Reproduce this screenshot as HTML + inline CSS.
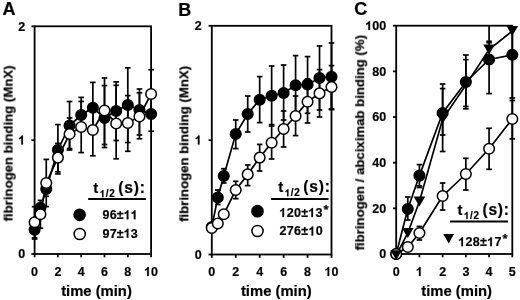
<!DOCTYPE html><html><head><meta charset="utf-8"><style>html,body{margin:0;padding:0;background:#fff;width:520px;height:300px;overflow:hidden}svg{display:block}text{will-change:transform}</style></head><body><svg width="520" height="300" viewBox="0 0 520 300">
<style>text{font-family:"Liberation Sans",sans-serif;font-weight:bold;fill:#000;stroke:#000;stroke-width:0.2px}.h{fill:none;stroke:none}.t{fill:#000;stroke:#000;stroke-width:0.2px}</style>
<rect width="520" height="300" fill="#fff"/>
<text x="2.6" y="15.3" font-size="18">A</text>
<text x="178.2" y="16" font-size="18">B</text>
<text x="354.2" y="15.4" font-size="18">C</text>
<rect x="34.6" y="26.3" width="116.5" height="227.7" fill="none" stroke="#000" stroke-width="1.8"/>
<line x1="34.6" y1="206.7" x2="34.6" y2="237.9" stroke="#000" stroke-width="1.7"/>
<line x1="31.8" y1="206.7" x2="37.4" y2="206.7" stroke="#000" stroke-width="1.7"/>
<line x1="31.8" y1="237.9" x2="37.4" y2="237.9" stroke="#000" stroke-width="1.7"/>
<line x1="34.6" y1="220.4" x2="34.6" y2="239" stroke="#000" stroke-width="1.7"/>
<line x1="31.8" y1="220.4" x2="37.4" y2="220.4" stroke="#000" stroke-width="1.7"/>
<line x1="31.8" y1="239" x2="37.4" y2="239" stroke="#000" stroke-width="1.7"/>
<line x1="40.43" y1="200.4" x2="40.43" y2="228.2" stroke="#000" stroke-width="1.7"/>
<line x1="37.63" y1="200.4" x2="43.23" y2="200.4" stroke="#000" stroke-width="1.7"/>
<line x1="37.63" y1="228.2" x2="43.23" y2="228.2" stroke="#000" stroke-width="1.7"/>
<line x1="46.25" y1="159.4" x2="46.25" y2="206.6" stroke="#000" stroke-width="1.7"/>
<line x1="43.45" y1="159.4" x2="49.05" y2="159.4" stroke="#000" stroke-width="1.7"/>
<line x1="43.45" y1="206.6" x2="49.05" y2="206.6" stroke="#000" stroke-width="1.7"/>
<line x1="46.25" y1="181.7" x2="46.25" y2="196.3" stroke="#000" stroke-width="1.7"/>
<line x1="43.45" y1="181.7" x2="49.05" y2="181.7" stroke="#000" stroke-width="1.7"/>
<line x1="43.45" y1="196.3" x2="49.05" y2="196.3" stroke="#000" stroke-width="1.7"/>
<line x1="57.9" y1="124.6" x2="57.9" y2="173.9" stroke="#000" stroke-width="1.7"/>
<line x1="55.1" y1="124.6" x2="60.7" y2="124.6" stroke="#000" stroke-width="1.7"/>
<line x1="55.1" y1="173.9" x2="60.7" y2="173.9" stroke="#000" stroke-width="1.7"/>
<line x1="57.9" y1="143.4" x2="57.9" y2="171.8" stroke="#000" stroke-width="1.7"/>
<line x1="55.1" y1="143.4" x2="60.7" y2="143.4" stroke="#000" stroke-width="1.7"/>
<line x1="55.1" y1="171.8" x2="60.7" y2="171.8" stroke="#000" stroke-width="1.7"/>
<line x1="69.55" y1="101.5" x2="69.55" y2="148.5" stroke="#000" stroke-width="1.7"/>
<line x1="66.75" y1="101.5" x2="72.35" y2="101.5" stroke="#000" stroke-width="1.7"/>
<line x1="66.75" y1="148.5" x2="72.35" y2="148.5" stroke="#000" stroke-width="1.7"/>
<line x1="69.55" y1="118" x2="69.55" y2="150" stroke="#000" stroke-width="1.7"/>
<line x1="66.75" y1="118" x2="72.35" y2="118" stroke="#000" stroke-width="1.7"/>
<line x1="66.75" y1="150" x2="72.35" y2="150" stroke="#000" stroke-width="1.7"/>
<line x1="81.2" y1="97.4" x2="81.2" y2="130.6" stroke="#000" stroke-width="1.7"/>
<line x1="78.4" y1="97.4" x2="84" y2="97.4" stroke="#000" stroke-width="1.7"/>
<line x1="78.4" y1="130.6" x2="84" y2="130.6" stroke="#000" stroke-width="1.7"/>
<line x1="81.2" y1="101.4" x2="81.2" y2="152.6" stroke="#000" stroke-width="1.7"/>
<line x1="78.4" y1="101.4" x2="84" y2="101.4" stroke="#000" stroke-width="1.7"/>
<line x1="78.4" y1="152.6" x2="84" y2="152.6" stroke="#000" stroke-width="1.7"/>
<line x1="92.85" y1="82.4" x2="92.85" y2="131.6" stroke="#000" stroke-width="1.7"/>
<line x1="90.05" y1="82.4" x2="95.65" y2="82.4" stroke="#000" stroke-width="1.7"/>
<line x1="90.05" y1="131.6" x2="95.65" y2="131.6" stroke="#000" stroke-width="1.7"/>
<line x1="92.85" y1="104.2" x2="92.85" y2="155.8" stroke="#000" stroke-width="1.7"/>
<line x1="90.05" y1="104.2" x2="95.65" y2="104.2" stroke="#000" stroke-width="1.7"/>
<line x1="90.05" y1="155.8" x2="95.65" y2="155.8" stroke="#000" stroke-width="1.7"/>
<line x1="104.5" y1="78" x2="104.5" y2="144.5" stroke="#000" stroke-width="1.7"/>
<line x1="101.7" y1="78" x2="107.3" y2="78" stroke="#000" stroke-width="1.7"/>
<line x1="101.7" y1="144.5" x2="107.3" y2="144.5" stroke="#000" stroke-width="1.7"/>
<line x1="104.5" y1="85.6" x2="104.5" y2="147.5" stroke="#000" stroke-width="1.7"/>
<line x1="101.7" y1="85.6" x2="107.3" y2="85.6" stroke="#000" stroke-width="1.7"/>
<line x1="101.7" y1="147.5" x2="107.3" y2="147.5" stroke="#000" stroke-width="1.7"/>
<line x1="116.15" y1="81.9" x2="116.15" y2="140.5" stroke="#000" stroke-width="1.7"/>
<line x1="113.35" y1="81.9" x2="118.95" y2="81.9" stroke="#000" stroke-width="1.7"/>
<line x1="113.35" y1="140.5" x2="118.95" y2="140.5" stroke="#000" stroke-width="1.7"/>
<line x1="116.15" y1="85.3" x2="116.15" y2="158.8" stroke="#000" stroke-width="1.7"/>
<line x1="113.35" y1="85.3" x2="118.95" y2="85.3" stroke="#000" stroke-width="1.7"/>
<line x1="113.35" y1="158.8" x2="118.95" y2="158.8" stroke="#000" stroke-width="1.7"/>
<line x1="127.8" y1="67.8" x2="127.8" y2="142.5" stroke="#000" stroke-width="1.7"/>
<line x1="125" y1="67.8" x2="130.6" y2="67.8" stroke="#000" stroke-width="1.7"/>
<line x1="125" y1="142.5" x2="130.6" y2="142.5" stroke="#000" stroke-width="1.7"/>
<line x1="127.8" y1="95.6" x2="127.8" y2="151.3" stroke="#000" stroke-width="1.7"/>
<line x1="125" y1="95.6" x2="130.6" y2="95.6" stroke="#000" stroke-width="1.7"/>
<line x1="125" y1="151.3" x2="130.6" y2="151.3" stroke="#000" stroke-width="1.7"/>
<line x1="139.45" y1="89" x2="139.45" y2="135" stroke="#000" stroke-width="1.7"/>
<line x1="136.65" y1="89" x2="142.25" y2="89" stroke="#000" stroke-width="1.7"/>
<line x1="136.65" y1="135" x2="142.25" y2="135" stroke="#000" stroke-width="1.7"/>
<line x1="139.45" y1="92.8" x2="139.45" y2="138.75" stroke="#000" stroke-width="1.7"/>
<line x1="136.65" y1="92.8" x2="142.25" y2="92.8" stroke="#000" stroke-width="1.7"/>
<line x1="136.65" y1="138.75" x2="142.25" y2="138.75" stroke="#000" stroke-width="1.7"/>
<line x1="151.1" y1="69.7" x2="151.1" y2="118.3" stroke="#000" stroke-width="1.7"/>
<line x1="148.3" y1="69.7" x2="153.9" y2="69.7" stroke="#000" stroke-width="1.7"/>
<line x1="148.3" y1="118.3" x2="153.9" y2="118.3" stroke="#000" stroke-width="1.7"/>
<line x1="151.1" y1="96.75" x2="151.1" y2="131.25" stroke="#000" stroke-width="1.7"/>
<line x1="148.3" y1="96.75" x2="153.9" y2="96.75" stroke="#000" stroke-width="1.7"/>
<line x1="148.3" y1="131.25" x2="153.9" y2="131.25" stroke="#000" stroke-width="1.7"/>
<polyline points="34.6,229.7 40.43,207.7 46.25,189 57.9,150 69.55,125.5 81.2,115 92.85,107.7 104.5,118 116.15,111 127.8,105 139.45,110 151.1,114" fill="none" stroke="#000" stroke-width="1.7"/>
<polyline points="34.6,222.3 40.43,214.3 46.25,183 57.9,157.6 69.55,134 81.2,127 92.85,130 104.5,110.5 116.15,123.5 127.8,123 139.45,116.5 151.1,94" fill="none" stroke="#000" stroke-width="1.7"/>
<circle cx="34.6" cy="229.7" r="5.3" fill="#000" stroke="#000" stroke-width="1.5"/>
<circle cx="40.43" cy="207.7" r="5.3" fill="#000" stroke="#000" stroke-width="1.5"/>
<circle cx="46.25" cy="189" r="5.3" fill="#000" stroke="#000" stroke-width="1.5"/>
<circle cx="57.9" cy="150" r="5.3" fill="#000" stroke="#000" stroke-width="1.5"/>
<circle cx="69.55" cy="125.5" r="5.3" fill="#000" stroke="#000" stroke-width="1.5"/>
<circle cx="81.2" cy="115" r="5.3" fill="#000" stroke="#000" stroke-width="1.5"/>
<circle cx="92.85" cy="107.7" r="5.3" fill="#000" stroke="#000" stroke-width="1.5"/>
<circle cx="104.5" cy="118" r="5.3" fill="#000" stroke="#000" stroke-width="1.5"/>
<circle cx="116.15" cy="111" r="5.3" fill="#000" stroke="#000" stroke-width="1.5"/>
<circle cx="127.8" cy="105" r="5.3" fill="#000" stroke="#000" stroke-width="1.5"/>
<circle cx="139.45" cy="110" r="5.3" fill="#000" stroke="#000" stroke-width="1.5"/>
<circle cx="151.1" cy="114" r="5.3" fill="#000" stroke="#000" stroke-width="1.5"/>
<circle cx="34.6" cy="222.3" r="5.3" fill="#fff" stroke="#000" stroke-width="1.5"/>
<circle cx="40.43" cy="214.3" r="5.3" fill="#fff" stroke="#000" stroke-width="1.5"/>
<circle cx="46.25" cy="183" r="5.3" fill="#fff" stroke="#000" stroke-width="1.5"/>
<circle cx="57.9" cy="157.6" r="5.3" fill="#fff" stroke="#000" stroke-width="1.5"/>
<circle cx="69.55" cy="134" r="5.3" fill="#fff" stroke="#000" stroke-width="1.5"/>
<circle cx="81.2" cy="127" r="5.3" fill="#fff" stroke="#000" stroke-width="1.5"/>
<circle cx="92.85" cy="130" r="5.3" fill="#fff" stroke="#000" stroke-width="1.5"/>
<circle cx="104.5" cy="110.5" r="5.3" fill="#fff" stroke="#000" stroke-width="1.5"/>
<circle cx="116.15" cy="123.5" r="5.3" fill="#fff" stroke="#000" stroke-width="1.5"/>
<circle cx="127.8" cy="123" r="5.3" fill="#fff" stroke="#000" stroke-width="1.5"/>
<circle cx="139.45" cy="116.5" r="5.3" fill="#fff" stroke="#000" stroke-width="1.5"/>
<circle cx="151.1" cy="94" r="5.3" fill="#fff" stroke="#000" stroke-width="1.5"/>
<line x1="31.4" y1="254" x2="34.6" y2="254" stroke="#000" stroke-width="1.8"/>
<text x="18.25" y="258.4" font-size="12.5">0</text>
<line x1="31.4" y1="140.15" x2="34.6" y2="140.15" stroke="#000" stroke-width="1.8"/>
<text x="18.25" y="144.55" font-size="12.5"><tspan class="h">1</tspan></text>
<path class="t" d="M22.94 144.55H21.26V138.15C20.7 138.68 19.98 139.07 19.1 139.33V137.84C19.56 137.68 20.06 137.41 20.6 137C21.14 136.58 21.5 136.12 21.7 135.6H22.94Z"/>
<line x1="31.4" y1="26.3" x2="34.6" y2="26.3" stroke="#000" stroke-width="1.8"/>
<text x="18.25" y="30.7" font-size="12.5">2</text>
<line x1="34.6" y1="254" x2="34.6" y2="257.3" stroke="#000" stroke-width="1.8"/>
<text x="31.12" y="276" font-size="12.5">0</text>
<line x1="57.9" y1="254" x2="57.9" y2="257.3" stroke="#000" stroke-width="1.8"/>
<text x="54.42" y="276" font-size="12.5">2</text>
<line x1="81.2" y1="254" x2="81.2" y2="257.3" stroke="#000" stroke-width="1.8"/>
<text x="77.72" y="276" font-size="12.5">4</text>
<line x1="104.5" y1="254" x2="104.5" y2="257.3" stroke="#000" stroke-width="1.8"/>
<text x="101.02" y="276" font-size="12.5">6</text>
<line x1="127.8" y1="254" x2="127.8" y2="257.3" stroke="#000" stroke-width="1.8"/>
<text x="124.32" y="276" font-size="12.5">8</text>
<line x1="151.1" y1="254" x2="151.1" y2="257.3" stroke="#000" stroke-width="1.8"/>
<text x="144.15" y="276" font-size="12.5"><tspan class="h">1</tspan>0</text>
<path class="t" d="M148.84 276H147.16V269.6C146.6 270.13 145.88 270.52 145 270.78V269.29C145.46 269.13 145.96 268.86 146.5 268.45C147.04 268.03 147.4 267.57 147.6 267.05H148.84Z"/>
<text x="61.14" y="296.2" font-size="14.8">time (min)</text>
<text transform="translate(12.6,143.4) rotate(-90)" x="-78.08" y="0" font-size="13.2">fibrinogen binding (MnX)</text>
<rect x="211.8" y="25.8" width="119.7" height="228.7" fill="none" stroke="#000" stroke-width="1.8"/>
<line x1="217.79" y1="190" x2="217.79" y2="204.5" stroke="#000" stroke-width="1.7"/>
<line x1="214.99" y1="190" x2="220.59" y2="190" stroke="#000" stroke-width="1.7"/>
<line x1="214.99" y1="204.5" x2="220.59" y2="204.5" stroke="#000" stroke-width="1.7"/>
<line x1="223.77" y1="168.7" x2="223.77" y2="183" stroke="#000" stroke-width="1.7"/>
<line x1="220.97" y1="168.7" x2="226.57" y2="168.7" stroke="#000" stroke-width="1.7"/>
<line x1="220.97" y1="183" x2="226.57" y2="183" stroke="#000" stroke-width="1.7"/>
<line x1="235.74" y1="120" x2="235.74" y2="148.6" stroke="#000" stroke-width="1.7"/>
<line x1="232.94" y1="120" x2="238.54" y2="120" stroke="#000" stroke-width="1.7"/>
<line x1="232.94" y1="148.6" x2="238.54" y2="148.6" stroke="#000" stroke-width="1.7"/>
<line x1="235.74" y1="181.3" x2="235.74" y2="198.7" stroke="#000" stroke-width="1.7"/>
<line x1="232.94" y1="181.3" x2="238.54" y2="181.3" stroke="#000" stroke-width="1.7"/>
<line x1="232.94" y1="198.7" x2="238.54" y2="198.7" stroke="#000" stroke-width="1.7"/>
<line x1="247.71" y1="96" x2="247.71" y2="132" stroke="#000" stroke-width="1.7"/>
<line x1="244.91" y1="96" x2="250.51" y2="96" stroke="#000" stroke-width="1.7"/>
<line x1="244.91" y1="132" x2="250.51" y2="132" stroke="#000" stroke-width="1.7"/>
<line x1="247.71" y1="165" x2="247.71" y2="185.6" stroke="#000" stroke-width="1.7"/>
<line x1="244.91" y1="165" x2="250.51" y2="165" stroke="#000" stroke-width="1.7"/>
<line x1="244.91" y1="185.6" x2="250.51" y2="185.6" stroke="#000" stroke-width="1.7"/>
<line x1="259.68" y1="76.6" x2="259.68" y2="122.6" stroke="#000" stroke-width="1.7"/>
<line x1="256.88" y1="76.6" x2="262.48" y2="76.6" stroke="#000" stroke-width="1.7"/>
<line x1="256.88" y1="122.6" x2="262.48" y2="122.6" stroke="#000" stroke-width="1.7"/>
<line x1="259.68" y1="144.4" x2="259.68" y2="171" stroke="#000" stroke-width="1.7"/>
<line x1="256.88" y1="144.4" x2="262.48" y2="144.4" stroke="#000" stroke-width="1.7"/>
<line x1="256.88" y1="171" x2="262.48" y2="171" stroke="#000" stroke-width="1.7"/>
<line x1="271.65" y1="66" x2="271.65" y2="124.6" stroke="#000" stroke-width="1.7"/>
<line x1="268.85" y1="66" x2="274.45" y2="66" stroke="#000" stroke-width="1.7"/>
<line x1="268.85" y1="124.6" x2="274.45" y2="124.6" stroke="#000" stroke-width="1.7"/>
<line x1="271.65" y1="126" x2="271.65" y2="159" stroke="#000" stroke-width="1.7"/>
<line x1="268.85" y1="126" x2="274.45" y2="126" stroke="#000" stroke-width="1.7"/>
<line x1="268.85" y1="159" x2="274.45" y2="159" stroke="#000" stroke-width="1.7"/>
<line x1="283.62" y1="65" x2="283.62" y2="120" stroke="#000" stroke-width="1.7"/>
<line x1="280.82" y1="65" x2="286.42" y2="65" stroke="#000" stroke-width="1.7"/>
<line x1="280.82" y1="120" x2="286.42" y2="120" stroke="#000" stroke-width="1.7"/>
<line x1="283.62" y1="111" x2="283.62" y2="147" stroke="#000" stroke-width="1.7"/>
<line x1="280.82" y1="111" x2="286.42" y2="111" stroke="#000" stroke-width="1.7"/>
<line x1="280.82" y1="147" x2="286.42" y2="147" stroke="#000" stroke-width="1.7"/>
<line x1="295.59" y1="55.6" x2="295.59" y2="113" stroke="#000" stroke-width="1.7"/>
<line x1="292.79" y1="55.6" x2="298.39" y2="55.6" stroke="#000" stroke-width="1.7"/>
<line x1="292.79" y1="113" x2="298.39" y2="113" stroke="#000" stroke-width="1.7"/>
<line x1="295.59" y1="96" x2="295.59" y2="135.6" stroke="#000" stroke-width="1.7"/>
<line x1="292.79" y1="96" x2="298.39" y2="96" stroke="#000" stroke-width="1.7"/>
<line x1="292.79" y1="135.6" x2="298.39" y2="135.6" stroke="#000" stroke-width="1.7"/>
<line x1="307.56" y1="56.6" x2="307.56" y2="113.3" stroke="#000" stroke-width="1.7"/>
<line x1="304.76" y1="56.6" x2="310.36" y2="56.6" stroke="#000" stroke-width="1.7"/>
<line x1="304.76" y1="113.3" x2="310.36" y2="113.3" stroke="#000" stroke-width="1.7"/>
<line x1="307.56" y1="79" x2="307.56" y2="123" stroke="#000" stroke-width="1.7"/>
<line x1="304.76" y1="79" x2="310.36" y2="79" stroke="#000" stroke-width="1.7"/>
<line x1="304.76" y1="123" x2="310.36" y2="123" stroke="#000" stroke-width="1.7"/>
<line x1="319.53" y1="46" x2="319.53" y2="110" stroke="#000" stroke-width="1.7"/>
<line x1="316.73" y1="46" x2="322.33" y2="46" stroke="#000" stroke-width="1.7"/>
<line x1="316.73" y1="110" x2="322.33" y2="110" stroke="#000" stroke-width="1.7"/>
<line x1="319.53" y1="69.6" x2="319.53" y2="117" stroke="#000" stroke-width="1.7"/>
<line x1="316.73" y1="69.6" x2="322.33" y2="69.6" stroke="#000" stroke-width="1.7"/>
<line x1="316.73" y1="117" x2="322.33" y2="117" stroke="#000" stroke-width="1.7"/>
<line x1="331.5" y1="43" x2="331.5" y2="109.6" stroke="#000" stroke-width="1.7"/>
<line x1="328.7" y1="43" x2="334.3" y2="43" stroke="#000" stroke-width="1.7"/>
<line x1="328.7" y1="109.6" x2="334.3" y2="109.6" stroke="#000" stroke-width="1.7"/>
<line x1="331.5" y1="65.6" x2="331.5" y2="108.8" stroke="#000" stroke-width="1.7"/>
<line x1="328.7" y1="65.6" x2="334.3" y2="65.6" stroke="#000" stroke-width="1.7"/>
<line x1="328.7" y1="108.8" x2="334.3" y2="108.8" stroke="#000" stroke-width="1.7"/>
<polyline points="211.8,227 217.79,197.5 223.77,176 235.74,134 247.71,114 259.68,99.7 271.65,95.7 283.62,93 295.59,85.3 307.56,84.4 319.53,78 331.5,76.7" fill="none" stroke="#000" stroke-width="1.7"/>
<polyline points="211.8,228 217.79,223.5 223.77,214.3 235.74,190 247.71,174.4 259.68,157.6 271.65,142.7 283.62,129 295.59,116 307.56,101.7 319.53,93.4 331.5,87" fill="none" stroke="#000" stroke-width="1.7"/>
<circle cx="211.8" cy="227" r="5.3" fill="#000" stroke="#000" stroke-width="1.5"/>
<circle cx="217.79" cy="197.5" r="5.3" fill="#000" stroke="#000" stroke-width="1.5"/>
<circle cx="223.77" cy="176" r="5.3" fill="#000" stroke="#000" stroke-width="1.5"/>
<circle cx="235.74" cy="134" r="5.3" fill="#000" stroke="#000" stroke-width="1.5"/>
<circle cx="247.71" cy="114" r="5.3" fill="#000" stroke="#000" stroke-width="1.5"/>
<circle cx="259.68" cy="99.7" r="5.3" fill="#000" stroke="#000" stroke-width="1.5"/>
<circle cx="271.65" cy="95.7" r="5.3" fill="#000" stroke="#000" stroke-width="1.5"/>
<circle cx="283.62" cy="93" r="5.3" fill="#000" stroke="#000" stroke-width="1.5"/>
<circle cx="295.59" cy="85.3" r="5.3" fill="#000" stroke="#000" stroke-width="1.5"/>
<circle cx="307.56" cy="84.4" r="5.3" fill="#000" stroke="#000" stroke-width="1.5"/>
<circle cx="319.53" cy="78" r="5.3" fill="#000" stroke="#000" stroke-width="1.5"/>
<circle cx="331.5" cy="76.7" r="5.3" fill="#000" stroke="#000" stroke-width="1.5"/>
<circle cx="211.8" cy="228" r="5.3" fill="#fff" stroke="#000" stroke-width="1.5"/>
<circle cx="217.79" cy="223.5" r="5.3" fill="#fff" stroke="#000" stroke-width="1.5"/>
<circle cx="223.77" cy="214.3" r="5.3" fill="#fff" stroke="#000" stroke-width="1.5"/>
<circle cx="235.74" cy="190" r="5.3" fill="#fff" stroke="#000" stroke-width="1.5"/>
<circle cx="247.71" cy="174.4" r="5.3" fill="#fff" stroke="#000" stroke-width="1.5"/>
<circle cx="259.68" cy="157.6" r="5.3" fill="#fff" stroke="#000" stroke-width="1.5"/>
<circle cx="271.65" cy="142.7" r="5.3" fill="#fff" stroke="#000" stroke-width="1.5"/>
<circle cx="283.62" cy="129" r="5.3" fill="#fff" stroke="#000" stroke-width="1.5"/>
<circle cx="295.59" cy="116" r="5.3" fill="#fff" stroke="#000" stroke-width="1.5"/>
<circle cx="307.56" cy="101.7" r="5.3" fill="#fff" stroke="#000" stroke-width="1.5"/>
<circle cx="319.53" cy="93.4" r="5.3" fill="#fff" stroke="#000" stroke-width="1.5"/>
<circle cx="331.5" cy="87" r="5.3" fill="#fff" stroke="#000" stroke-width="1.5"/>
<line x1="208.6" y1="254.5" x2="211.8" y2="254.5" stroke="#000" stroke-width="1.8"/>
<text x="194.85" y="258.9" font-size="12.5">0</text>
<line x1="208.6" y1="140.15" x2="211.8" y2="140.15" stroke="#000" stroke-width="1.8"/>
<text x="194.85" y="144.55" font-size="12.5"><tspan class="h">1</tspan></text>
<path class="t" d="M199.54 144.55H197.86V138.15C197.3 138.68 196.58 139.07 195.7 139.33V137.84C196.16 137.68 196.66 137.41 197.2 137C197.74 136.58 198.1 136.12 198.3 135.6H199.54Z"/>
<line x1="208.6" y1="25.8" x2="211.8" y2="25.8" stroke="#000" stroke-width="1.8"/>
<text x="194.85" y="30.2" font-size="12.5">2</text>
<line x1="211.8" y1="254.5" x2="211.8" y2="257.8" stroke="#000" stroke-width="1.8"/>
<text x="208.32" y="276" font-size="12.5">0</text>
<line x1="235.74" y1="254.5" x2="235.74" y2="257.8" stroke="#000" stroke-width="1.8"/>
<text x="232.26" y="276" font-size="12.5">2</text>
<line x1="259.68" y1="254.5" x2="259.68" y2="257.8" stroke="#000" stroke-width="1.8"/>
<text x="256.2" y="276" font-size="12.5">4</text>
<line x1="283.62" y1="254.5" x2="283.62" y2="257.8" stroke="#000" stroke-width="1.8"/>
<text x="280.14" y="276" font-size="12.5">6</text>
<line x1="307.56" y1="254.5" x2="307.56" y2="257.8" stroke="#000" stroke-width="1.8"/>
<text x="304.08" y="276" font-size="12.5">8</text>
<line x1="331.5" y1="254.5" x2="331.5" y2="257.8" stroke="#000" stroke-width="1.8"/>
<text x="324.55" y="276" font-size="12.5"><tspan class="h">1</tspan>0</text>
<path class="t" d="M329.24 276H327.56V269.6C327 270.13 326.28 270.52 325.4 270.78V269.29C325.86 269.13 326.36 268.86 326.9 268.45C327.44 268.03 327.8 267.57 328 267.05H329.24Z"/>
<text x="240.94" y="296.2" font-size="14.8">time (min)</text>
<text transform="translate(188.4,143.8) rotate(-90)" x="-78.08" y="0" font-size="13.2">fibrinogen binding (MnX)</text>
<rect x="396.2" y="25.7" width="116.1" height="228.3" fill="none" stroke="#000" stroke-width="1.8"/>
<line x1="407.81" y1="197" x2="407.81" y2="220" stroke="#000" stroke-width="1.7"/>
<line x1="405.01" y1="197" x2="410.61" y2="197" stroke="#000" stroke-width="1.7"/>
<line x1="405.01" y1="220" x2="410.61" y2="220" stroke="#000" stroke-width="1.7"/>
<line x1="419.42" y1="164.6" x2="419.42" y2="186" stroke="#000" stroke-width="1.7"/>
<line x1="416.62" y1="164.6" x2="422.22" y2="164.6" stroke="#000" stroke-width="1.7"/>
<line x1="416.62" y1="186" x2="422.22" y2="186" stroke="#000" stroke-width="1.7"/>
<line x1="416.62" y1="187.5" x2="422.22" y2="187.5" stroke="#000" stroke-width="1.7"/>
<line x1="419.42" y1="226.4" x2="419.42" y2="240" stroke="#000" stroke-width="1.7"/>
<line x1="416.62" y1="226.4" x2="422.22" y2="226.4" stroke="#000" stroke-width="1.7"/>
<line x1="416.62" y1="240" x2="422.22" y2="240" stroke="#000" stroke-width="1.7"/>
<line x1="442.64" y1="88.6" x2="442.64" y2="135" stroke="#000" stroke-width="1.7"/>
<line x1="439.84" y1="88.6" x2="445.44" y2="88.6" stroke="#000" stroke-width="1.7"/>
<line x1="439.84" y1="135" x2="445.44" y2="135" stroke="#000" stroke-width="1.7"/>
<line x1="442.64" y1="84" x2="442.64" y2="151.5" stroke="#000" stroke-width="1.7"/>
<line x1="439.84" y1="84" x2="445.44" y2="84" stroke="#000" stroke-width="1.7"/>
<line x1="439.84" y1="151.5" x2="445.44" y2="151.5" stroke="#000" stroke-width="1.7"/>
<line x1="442.64" y1="183" x2="442.64" y2="210" stroke="#000" stroke-width="1.7"/>
<line x1="439.84" y1="183" x2="445.44" y2="183" stroke="#000" stroke-width="1.7"/>
<line x1="439.84" y1="210" x2="445.44" y2="210" stroke="#000" stroke-width="1.7"/>
<line x1="465.86" y1="55" x2="465.86" y2="106.4" stroke="#000" stroke-width="1.7"/>
<line x1="463.06" y1="55" x2="468.66" y2="55" stroke="#000" stroke-width="1.7"/>
<line x1="463.06" y1="106.4" x2="468.66" y2="106.4" stroke="#000" stroke-width="1.7"/>
<line x1="465.86" y1="59.6" x2="465.86" y2="108.8" stroke="#000" stroke-width="1.7"/>
<line x1="463.06" y1="59.6" x2="468.66" y2="59.6" stroke="#000" stroke-width="1.7"/>
<line x1="463.06" y1="108.8" x2="468.66" y2="108.8" stroke="#000" stroke-width="1.7"/>
<line x1="465.86" y1="158.3" x2="465.86" y2="190" stroke="#000" stroke-width="1.7"/>
<line x1="463.06" y1="158.3" x2="468.66" y2="158.3" stroke="#000" stroke-width="1.7"/>
<line x1="463.06" y1="190" x2="468.66" y2="190" stroke="#000" stroke-width="1.7"/>
<line x1="489.08" y1="26" x2="489.08" y2="93.6" stroke="#000" stroke-width="1.7"/>
<line x1="486.28" y1="93.6" x2="491.88" y2="93.6" stroke="#000" stroke-width="1.7"/>
<line x1="486.28" y1="41.3" x2="491.88" y2="41.3" stroke="#000" stroke-width="1.7"/>
<line x1="486.28" y1="42.7" x2="491.88" y2="42.7" stroke="#000" stroke-width="1.7"/>
<line x1="489.08" y1="128.3" x2="489.08" y2="169.3" stroke="#000" stroke-width="1.7"/>
<line x1="486.28" y1="128.3" x2="491.88" y2="128.3" stroke="#000" stroke-width="1.7"/>
<line x1="486.28" y1="169.3" x2="491.88" y2="169.3" stroke="#000" stroke-width="1.7"/>
<line x1="512.3" y1="26" x2="512.3" y2="98" stroke="#000" stroke-width="1.7"/>
<line x1="509.5" y1="98" x2="515.1" y2="98" stroke="#000" stroke-width="1.7"/>
<line x1="512.3" y1="100.5" x2="512.3" y2="138.9" stroke="#000" stroke-width="1.7"/>
<line x1="509.5" y1="100.5" x2="515.1" y2="100.5" stroke="#000" stroke-width="1.7"/>
<line x1="509.5" y1="138.9" x2="515.1" y2="138.9" stroke="#000" stroke-width="1.7"/>
<polyline points="396.2,254 407.81,209 419.42,175.6 442.64,113 465.86,82 489.08,59.5 512.3,54.8" fill="none" stroke="#000" stroke-width="1.7"/>
<polyline points="396.2,255.2 407.81,233 419.42,201.5 442.64,119 465.86,85 489.08,49.5 512.3,31" fill="none" stroke="#000" stroke-width="1.7"/>
<polyline points="396.2,254 407.81,247 419.42,233 442.64,196 465.86,174 489.08,148.8 512.3,119" fill="none" stroke="#000" stroke-width="1.7"/>
<circle cx="396.2" cy="254" r="5.3" fill="#000" stroke="#000" stroke-width="1.5"/>
<circle cx="407.81" cy="209" r="5.3" fill="#000" stroke="#000" stroke-width="1.5"/>
<circle cx="419.42" cy="175.6" r="5.3" fill="#000" stroke="#000" stroke-width="1.5"/>
<circle cx="442.64" cy="113" r="5.3" fill="#000" stroke="#000" stroke-width="1.5"/>
<circle cx="465.86" cy="82" r="5.3" fill="#000" stroke="#000" stroke-width="1.5"/>
<circle cx="489.08" cy="59.5" r="5.3" fill="#000" stroke="#000" stroke-width="1.5"/>
<circle cx="512.3" cy="54.8" r="5.3" fill="#000" stroke="#000" stroke-width="1.5"/>
<circle cx="396.2" cy="254" r="5.3" fill="#fff" stroke="#000" stroke-width="1.5"/>
<circle cx="407.81" cy="247" r="5.3" fill="#fff" stroke="#000" stroke-width="1.5"/>
<circle cx="419.42" cy="233" r="5.3" fill="#fff" stroke="#000" stroke-width="1.5"/>
<circle cx="442.64" cy="196" r="5.3" fill="#fff" stroke="#000" stroke-width="1.5"/>
<circle cx="465.86" cy="174" r="5.3" fill="#fff" stroke="#000" stroke-width="1.5"/>
<circle cx="489.08" cy="148.8" r="5.3" fill="#fff" stroke="#000" stroke-width="1.5"/>
<circle cx="512.3" cy="119" r="5.3" fill="#fff" stroke="#000" stroke-width="1.5"/>
<path d="M390.4,250.2L402,250.2L396.2,260.2Z" fill="#000"/>
<path d="M402.01,228L413.61,228L407.81,238Z" fill="#000"/>
<path d="M413.62,196.5L425.22,196.5L419.42,206.5Z" fill="#000"/>
<path d="M436.84,114L448.44,114L442.64,124Z" fill="#000"/>
<path d="M460.06,80L471.66,80L465.86,90Z" fill="#000"/>
<path d="M483.28,44.5L494.88,44.5L489.08,54.5Z" fill="#000"/>
<path d="M506.5,26L518.1,26L512.3,36Z" fill="#000"/>
<line x1="393" y1="254" x2="396.2" y2="254" stroke="#000" stroke-width="1.8"/>
<text x="379.25" y="258.4" font-size="12.5">0</text>
<line x1="393" y1="208.34" x2="396.2" y2="208.34" stroke="#000" stroke-width="1.8"/>
<text x="372.3" y="212.74" font-size="12.5">20</text>
<line x1="393" y1="162.68" x2="396.2" y2="162.68" stroke="#000" stroke-width="1.8"/>
<text x="372.3" y="167.08" font-size="12.5">40</text>
<line x1="393" y1="117.02" x2="396.2" y2="117.02" stroke="#000" stroke-width="1.8"/>
<text x="372.3" y="121.42" font-size="12.5">60</text>
<line x1="393" y1="71.36" x2="396.2" y2="71.36" stroke="#000" stroke-width="1.8"/>
<text x="372.3" y="75.76" font-size="12.5">80</text>
<line x1="393" y1="25.7" x2="396.2" y2="25.7" stroke="#000" stroke-width="1.8"/>
<text x="365.34" y="30.1" font-size="12.5"><tspan class="h">1</tspan>00</text>
<path class="t" d="M370.03 30.1H368.35V23.7C367.79 24.23 367.07 24.62 366.19 24.88V23.39C366.66 23.23 367.16 22.96 367.69 22.55C368.23 22.13 368.6 21.67 368.79 21.15H370.03Z"/>
<line x1="396.2" y1="254" x2="396.2" y2="257.3" stroke="#000" stroke-width="1.8"/>
<text x="392.72" y="276" font-size="12.5">0</text>
<line x1="419.42" y1="254" x2="419.42" y2="257.3" stroke="#000" stroke-width="1.8"/>
<text x="415.94" y="276" font-size="12.5"><tspan class="h">1</tspan></text>
<path class="t" d="M420.63 276H418.95V269.6C418.39 270.13 417.67 270.52 416.79 270.78V269.29C417.26 269.13 417.76 268.86 418.29 268.45C418.83 268.03 419.2 267.57 419.39 267.05H420.63Z"/>
<line x1="442.64" y1="254" x2="442.64" y2="257.3" stroke="#000" stroke-width="1.8"/>
<text x="439.16" y="276" font-size="12.5">2</text>
<line x1="465.86" y1="254" x2="465.86" y2="257.3" stroke="#000" stroke-width="1.8"/>
<text x="462.38" y="276" font-size="12.5">3</text>
<line x1="489.08" y1="254" x2="489.08" y2="257.3" stroke="#000" stroke-width="1.8"/>
<text x="485.6" y="276" font-size="12.5">4</text>
<line x1="512.3" y1="254" x2="512.3" y2="257.3" stroke="#000" stroke-width="1.8"/>
<text x="508.82" y="276" font-size="12.5">5</text>
<text x="421.34" y="296.2" font-size="14.8">time (min)</text>
<text transform="translate(364.2,142.6) rotate(-90)" x="-107.8" y="0" font-size="13.2">fibrinogen / abciximab binding (%)</text>
<text x="93.2" y="192.6" font-size="15">t</text>
<text x="99.7" y="197.2" font-size="10" letter-spacing="0.6"><tspan class="h">1</tspan>/2</text>
<path class="t" d="M103.45 197.2H102.11V192.08C101.66 192.5 101.08 192.82 100.38 193.03V191.83C100.75 191.71 101.15 191.49 101.58 191.16C102.01 190.83 102.3 190.46 102.46 190.04H103.45Z"/>
<text x="118.2" y="193" font-size="15.6" letter-spacing="0.8">(s):</text>
<line x1="88.2" y1="199" x2="146" y2="199" stroke="#000" stroke-width="2"/>
<circle cx="79.6" cy="214.8" r="5.6" fill="#000" stroke="#000" stroke-width="1.5"/>
<circle cx="79.7" cy="234" r="5.6" fill="#fff" stroke="#000" stroke-width="1.5"/>
<text x="102.6" y="219.3" font-size="12.5" letter-spacing="0.12">96±<tspan class="h">1</tspan><tspan class="h">1</tspan></text>
<path class="t" d="M128.41 219.3H126.73V212.9C126.17 213.43 125.45 213.82 124.57 214.08V212.59C125.04 212.43 125.54 212.16 126.07 211.75C126.61 211.33 126.98 210.87 127.17 210.35H128.41Z"/>
<path class="t" d="M135.48 219.3H133.81V212.9C133.24 213.43 132.52 213.82 131.64 214.08V212.59C132.11 212.43 132.61 212.16 133.15 211.75C133.68 211.33 134.05 210.87 134.24 210.35H135.48Z"/>
<text x="102.6" y="237.8" font-size="12.5" letter-spacing="0.12">97±<tspan class="h">1</tspan>3</text>
<path class="t" d="M128.41 237.8H126.73V231.4C126.17 231.93 125.45 232.32 124.57 232.58V231.09C125.04 230.93 125.54 230.66 126.07 230.25C126.61 229.83 126.98 229.37 127.17 228.85H128.41Z"/>
<text x="278.2" y="191.7" font-size="15">t</text>
<text x="284.7" y="196.3" font-size="10" letter-spacing="0.6"><tspan class="h">1</tspan>/2</text>
<path class="t" d="M288.45 196.3H287.11V191.18C286.66 191.6 286.08 191.92 285.38 192.13V190.93C285.75 190.81 286.15 190.59 286.58 190.26C287.01 189.93 287.3 189.56 287.46 189.14H288.45Z"/>
<text x="303.2" y="192.1" font-size="15.6" letter-spacing="0.8">(s):</text>
<line x1="271" y1="199" x2="328.5" y2="199" stroke="#000" stroke-width="2"/>
<circle cx="257.5" cy="211.2" r="5.6" fill="#000" stroke="#000" stroke-width="1.5"/>
<circle cx="257.5" cy="231" r="5.6" fill="#fff" stroke="#000" stroke-width="1.5"/>
<text x="279.4" y="217" font-size="12.5" letter-spacing="0.3"><tspan class="h">1</tspan>20±<tspan class="h">1</tspan>3</text>
<path class="t" d="M284.09 217H282.41V210.6C281.85 211.13 281.13 211.52 280.25 211.78V210.29C280.71 210.13 281.21 209.86 281.75 209.45C282.29 209.03 282.65 208.57 282.85 208.05H284.09Z"/>
<path class="t" d="M313 217H311.33V210.6C310.76 211.13 310.04 211.52 309.16 211.78V210.29C309.63 210.13 310.13 209.86 310.67 209.45C311.2 209.03 311.57 208.57 311.76 208.05H313Z"/>
<text x="323.62" y="214" font-size="13">*</text>
<text x="279.6" y="235.4" font-size="12.5" letter-spacing="0.3">276±<tspan class="h">1</tspan>0</text>
<path class="t" d="M313.2 235.4H311.53V229C310.96 229.53 310.24 229.92 309.36 230.18V228.69C309.83 228.53 310.33 228.26 310.87 227.85C311.4 227.43 311.77 226.97 311.96 226.45H313.2Z"/>
<text x="457.4" y="214.5" font-size="15">t</text>
<text x="463.9" y="219.1" font-size="10" letter-spacing="0.6"><tspan class="h">1</tspan>/2</text>
<path class="t" d="M467.65 219.1H466.31V213.98C465.86 214.4 465.28 214.72 464.58 214.93V213.73C464.95 213.61 465.35 213.39 465.78 213.06C466.21 212.73 466.5 212.36 466.66 211.94H467.65Z"/>
<text x="482.4" y="214.9" font-size="15.6" letter-spacing="0.8">(s):</text>
<line x1="450" y1="221.5" x2="508" y2="221.5" stroke="#000" stroke-width="2"/>
<path d="M443.3,234L454,234L448.65,243.4Z" fill="#000"/>
<text x="458.3" y="246.2" font-size="12.5" letter-spacing="0.3"><tspan class="h">1</tspan>28±<tspan class="h">1</tspan>7</text>
<path class="t" d="M462.99 246.2H461.31V239.8C460.75 240.33 460.03 240.72 459.15 240.98V239.49C459.61 239.33 460.11 239.06 460.65 238.65C461.19 238.23 461.55 237.77 461.75 237.25H462.99Z"/>
<path class="t" d="M491.9 246.2H490.23V239.8C489.66 240.33 488.94 240.72 488.06 240.98V239.49C488.53 239.33 489.03 239.06 489.57 238.65C490.1 238.23 490.47 237.77 490.66 237.25H491.9Z"/>
<text x="502.52" y="243.2" font-size="13">*</text>
</svg></body></html>
